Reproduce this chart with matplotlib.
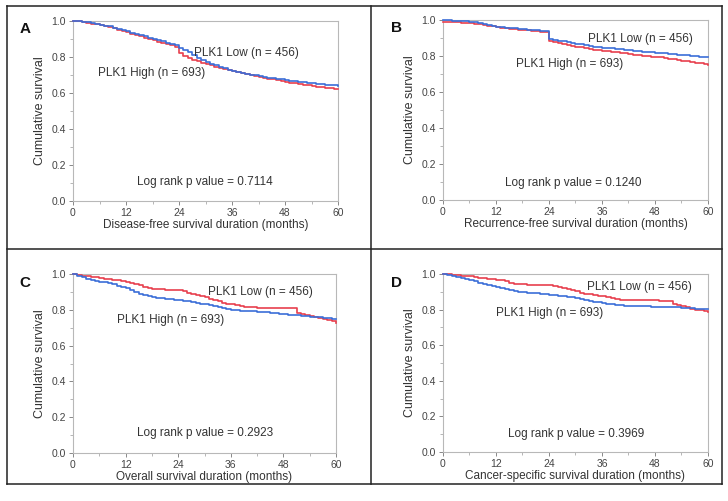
import matplotlib as mpl
mpl.use("Agg")
import matplotlib.pyplot as plt
from matplotlib.lines import Line2D
from matplotlib.ticker import MultipleLocator

plt.rcParams["font.family"] = ["Liberation Sans", "DejaVu Sans"]

## Data: cumulative survival at each month 0..60
months = list(range(61))

a_red = [1.000, 0.998, 0.995, 0.990, 0.986, 0.981, 0.977, 0.972, 0.966, 0.960,
         0.952, 0.945, 0.937, 0.930, 0.922, 0.915, 0.907, 0.900, 0.893, 0.886,
         0.879, 0.872, 0.866, 0.858, 0.820, 0.808, 0.797, 0.786, 0.776, 0.768,
         0.761, 0.753, 0.746, 0.740, 0.734, 0.728, 0.722, 0.717, 0.712, 0.707,
         0.701, 0.696, 0.690, 0.685, 0.680, 0.676, 0.671, 0.667, 0.662, 0.658,
         0.654, 0.651, 0.647, 0.643, 0.640, 0.636, 0.633, 0.629, 0.626, 0.623,
         0.620]
a_blue = [1.000, 0.999, 0.997, 0.993, 0.989, 0.985, 0.980, 0.975, 0.970, 0.963,
          0.956, 0.949, 0.942, 0.935, 0.928, 0.921, 0.914, 0.907, 0.900, 0.893,
          0.887, 0.880, 0.874, 0.868, 0.852, 0.840, 0.826, 0.811, 0.797, 0.784,
          0.772, 0.762, 0.753, 0.745, 0.737, 0.729, 0.722, 0.717, 0.712, 0.707,
          0.702, 0.698, 0.694, 0.690, 0.686, 0.682, 0.678, 0.675, 0.672, 0.669,
          0.666, 0.663, 0.660, 0.657, 0.654, 0.651, 0.649, 0.646, 0.644, 0.642,
          0.640]

b_red = [0.990, 0.990, 0.989, 0.988, 0.986, 0.984, 0.982, 0.979, 0.976, 0.972,
         0.968, 0.964, 0.960, 0.957, 0.955, 0.952, 0.950, 0.947, 0.945, 0.942,
         0.940, 0.937, 0.935, 0.932, 0.882, 0.877, 0.871, 0.866, 0.861, 0.857,
         0.852, 0.848, 0.843, 0.838, 0.835, 0.832, 0.829, 0.826, 0.823, 0.820,
         0.817, 0.814, 0.811, 0.808, 0.805, 0.802, 0.799, 0.797, 0.795, 0.792,
         0.789, 0.786, 0.782, 0.779, 0.775, 0.771, 0.767, 0.763, 0.759, 0.755,
         0.750]
b_blue = [0.998, 0.998, 0.997, 0.996, 0.994, 0.992, 0.990, 0.988, 0.986, 0.980,
          0.974, 0.968, 0.963, 0.960, 0.958, 0.955, 0.953, 0.950, 0.948, 0.946,
          0.944, 0.942, 0.940, 0.938, 0.893, 0.889, 0.885, 0.881, 0.877, 0.873,
          0.869, 0.865, 0.860, 0.855, 0.851, 0.848, 0.846, 0.844, 0.842, 0.840,
          0.837, 0.834, 0.831, 0.828, 0.826, 0.824, 0.822, 0.820, 0.818, 0.816,
          0.814, 0.812, 0.810, 0.808, 0.806, 0.803, 0.801, 0.799, 0.797, 0.795,
          0.793]

c_red = [1.000, 0.996, 0.991, 0.988, 0.985, 0.982, 0.978, 0.974, 0.970, 0.967,
         0.964, 0.961, 0.957, 0.951, 0.945, 0.938, 0.930, 0.922, 0.916, 0.915,
         0.914, 0.913, 0.912, 0.911, 0.910, 0.903, 0.895, 0.889, 0.883, 0.877,
         0.870, 0.862, 0.855, 0.847, 0.840, 0.835, 0.830, 0.826, 0.822, 0.818,
         0.815, 0.813, 0.812, 0.811, 0.810, 0.810, 0.810, 0.810, 0.810, 0.809,
         0.808, 0.782, 0.778, 0.773, 0.768, 0.762, 0.756, 0.749, 0.742, 0.735,
         0.728]
c_blue = [1.000, 0.990, 0.981, 0.973, 0.966, 0.961, 0.957, 0.953, 0.948, 0.942,
          0.935, 0.928, 0.920, 0.910, 0.900, 0.890, 0.882, 0.877, 0.872, 0.868,
          0.864, 0.861, 0.858, 0.856, 0.854, 0.851, 0.847, 0.843, 0.839, 0.835,
          0.830, 0.825, 0.820, 0.815, 0.810, 0.805, 0.800, 0.798, 0.796, 0.794,
          0.792, 0.791, 0.790, 0.787, 0.785, 0.782, 0.780, 0.777, 0.775, 0.773,
          0.771, 0.769, 0.767, 0.765, 0.762, 0.760, 0.758, 0.755, 0.753, 0.751,
          0.749]

d_red = [1.000, 0.998, 0.995, 0.993, 0.991, 0.989, 0.987, 0.984, 0.980, 0.977,
         0.974, 0.971, 0.968, 0.964, 0.960, 0.952, 0.944, 0.943, 0.942, 0.941,
         0.941, 0.940, 0.940, 0.940, 0.939, 0.933, 0.927, 0.921, 0.915, 0.909,
         0.903, 0.896, 0.889, 0.885, 0.881, 0.877, 0.874, 0.869, 0.864, 0.860,
         0.856, 0.855, 0.855, 0.854, 0.854, 0.853, 0.853, 0.852, 0.852, 0.851,
         0.850, 0.849, 0.830, 0.825, 0.819, 0.813, 0.806, 0.800, 0.795, 0.790,
         0.785]
d_blue = [1.000, 0.994, 0.988, 0.982, 0.976, 0.970, 0.964, 0.958, 0.952, 0.946,
          0.940, 0.935, 0.929, 0.922, 0.915, 0.908, 0.902, 0.899, 0.897, 0.895,
          0.893, 0.891, 0.889, 0.886, 0.883, 0.880, 0.877, 0.874, 0.871, 0.868,
          0.864, 0.859, 0.854, 0.849, 0.844, 0.840, 0.836, 0.833, 0.830, 0.827,
          0.824, 0.822, 0.820, 0.819, 0.819, 0.818, 0.818, 0.817, 0.817, 0.816,
          0.815, 0.814, 0.813, 0.812, 0.811, 0.809, 0.808, 0.806, 0.805, 0.804,
          0.803]

letters = ["A", "B", "C", "D"]
xlabels = ["Disease-free survival duration (months)",
           "Recurrence-free survival duration (months)",
           "Overall survival duration (months)",
           "Cancer-specific survival duration (months)"]
pvalues = ["0.7114", "0.1240", "0.2923", "0.3969"]
low_label = "PLK1 Low (n = 456)"
high_label = "PLK1 High (n = 693)"

curves = [(a_red, a_blue), (b_red, b_blue), (c_red, c_blue), (d_red, d_blue)]

# label positions in data coords: (low x, low y, high x, high y, p x, p y)
label_pos = [(27.4, 0.822, 5.7, 0.711, 29.9, 0.105),
             (32.8, 0.894, 16.5, 0.756, 29.4, 0.094),
             (30.8, 0.899, 10.0, 0.743, 30.1, 0.112),
             (32.6, 0.927, 12.0, 0.780, 30.1, 0.100)]

W, H = 728, 501
fig = plt.figure(figsize=(W/100, H/100), dpi=100)

# axes boxes in pixels: (left, top, right, bottom)
boxes = [(73, 21, 338, 201), (443, 20, 708, 200),
         (73, 274, 336, 453), (443, 274, 708, 452)]
letter_xy = [(25, 29), (397, 28), (25, 283), (397, 283)]

red = "#e8404e"
blue = "#3b6ed8"
grey = "#b8b8b8"
tcol = "#333333"

for i in range(4):
    l, t, r, b = boxes[i]
    ax = fig.add_axes([l/W, 1-b/H, (r-l)/W, (b-t)/H])
    rs, bs = curves[i]
    ax.step(months, rs, where="post", color=red, lw=1.2, zorder=3, clip_on=False)
    ax.step(months, bs, where="post", color=blue, lw=1.2, zorder=3, clip_on=False)
    ax.set_xlim(0, 60)
    ax.set_ylim(0, 1.0)
    ax.xaxis.set_major_locator(MultipleLocator(12))
    ax.xaxis.set_minor_locator(MultipleLocator(6))
    ax.yaxis.set_major_locator(MultipleLocator(0.2))
    ax.yaxis.set_minor_locator(MultipleLocator(0.1))
    ax.yaxis.set_major_formatter(mpl.ticker.FormatStrFormatter("%.1f"))
    for s in ax.spines.values():
        s.set_color(grey)
        s.set_linewidth(0.8)
    ax.tick_params(which="major", length=3, width=0.7, color="#888888",
                   labelsize=7.5, labelcolor="#444444", pad=2)
    ax.tick_params(which="minor", length=2, width=0.6, color="#aaaaaa")
    ax.set_xlabel(xlabels[i], fontsize=8.5, color=tcol, labelpad=1)
    ax.set_ylabel("Cumulative survival", fontsize=9, color=tcol, labelpad=4)
    lx, ly, hx, hy, px, py = label_pos[i]
    ax.text(lx, ly, low_label, fontsize=8.5, color=tcol, va="center", ha="left")
    ax.text(hx, hy, high_label, fontsize=8.5, color=tcol, va="center", ha="left")
    ax.text(px, py, "Log rank p value = " + pvalues[i], fontsize=8.5, color=tcol,
            va="center", ha="center")
    fig.text(letter_xy[i][0]/W, 1-letter_xy[i][1]/H, letters[i], fontsize=11,
             fontweight="bold", color="#111111", va="center", ha="center")

# panel borders
def pline(x0, y0, x1, y1):
    fig.add_artist(Line2D([x0/W, x1/W], [1-y0/H, 1-y1/H], color="#222222", lw=1.1))

L, T, R, B = 7, 6, 722, 484
pline(L, T, R, T)
pline(L, B, R, B)
pline(L, T, L, B)
pline(R, T, R, B)
pline(371, T, 371, B)
pline(L, 249, R, 249)

fig.savefig("out.png", dpi=100)
